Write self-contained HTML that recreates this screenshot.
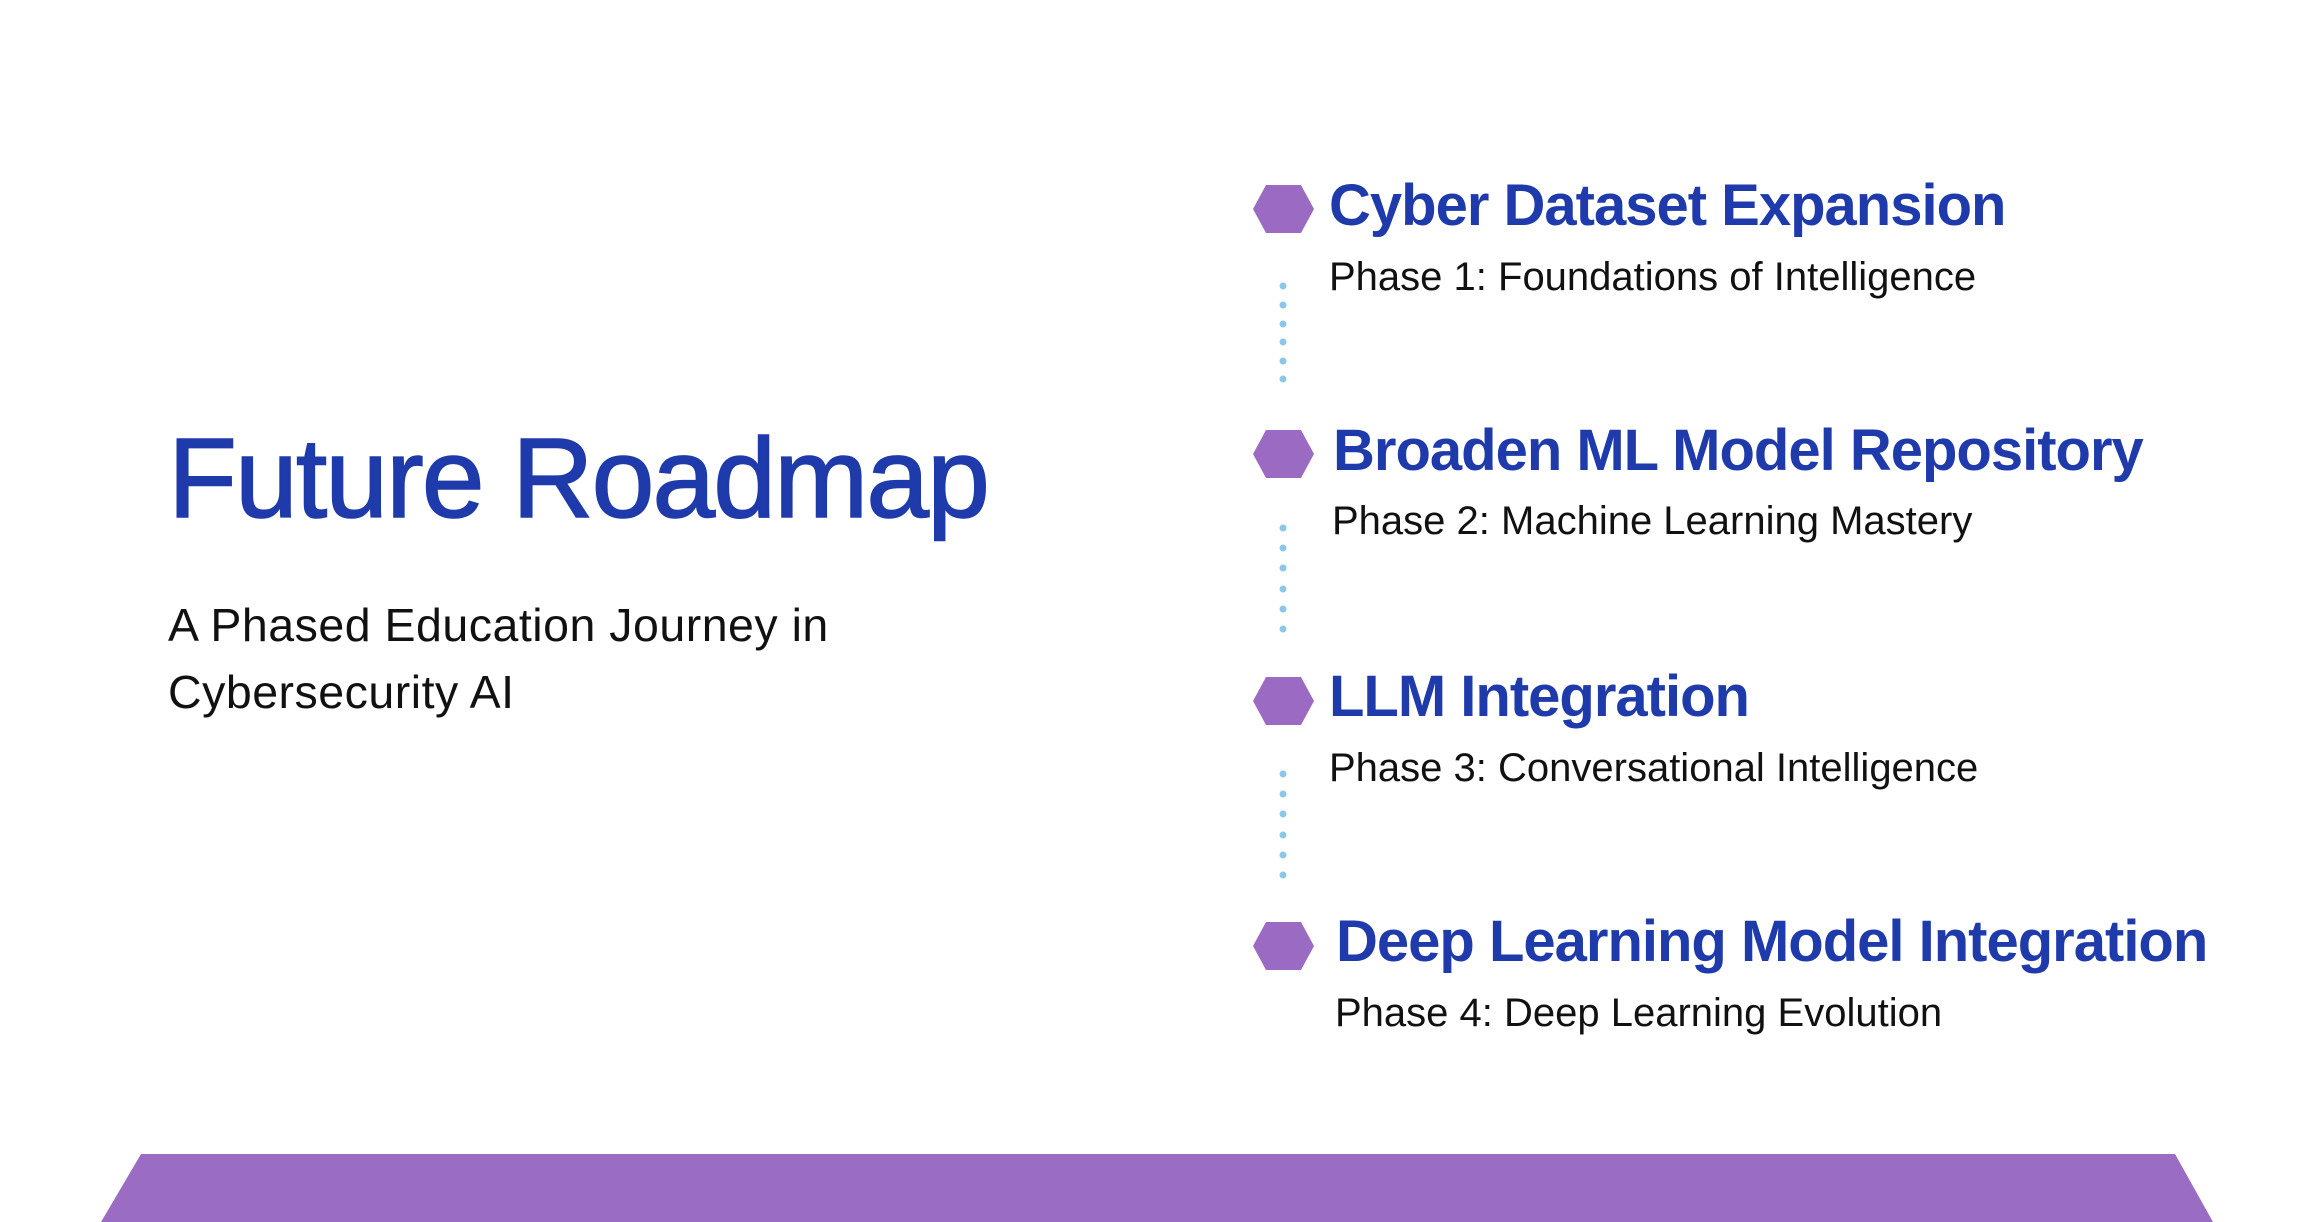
<!DOCTYPE html>
<html><head><meta charset="utf-8"><style>
body{margin:0;width:2316px;height:1222px;background:#fff;position:relative;overflow:hidden;font-family:"Liberation Sans",sans-serif}
.t{position:absolute;white-space:nowrap;line-height:1}
.title{left:168px;top:422px;font-size:113px;letter-spacing:-2px;color:#1f3aaa;-webkit-text-stroke:1.5px #1f3aaa}
.sub{left:168px;font-size:46.5px;color:#111;letter-spacing:0.5px}
.h{font-size:58px;font-weight:bold;color:#1f3aaa;letter-spacing:-1px}
.p{font-size:40px;color:#111}
</style></head><body>
<div class="t title">Future Roadmap</div>
<div class="t sub" style="top:602px">A Phased Education Journey in</div>
<div class="t sub" style="top:669px">Cybersecurity AI</div>

<svg width="2316" height="1222" style="position:absolute;left:0;top:0">
<g fill="#9b6bc4">
<polygon points="1253,209 1266,185 1301,185 1314,209 1301,233 1266,233"/>
<polygon points="1253,454 1266,430 1301,430 1314,454 1301,478 1266,478"/>
<polygon points="1253,701 1266,677 1301,677 1314,701 1301,725 1266,725"/>
<polygon points="1253,946 1266,922 1301,922 1314,946 1301,970 1266,970"/>
</g>
<g fill="#8ec6e8">
<circle cx="1283" cy="286" r="3.5"/><circle cx="1283" cy="305" r="3.5"/><circle cx="1283" cy="324" r="3.5"/><circle cx="1283" cy="342" r="3.5"/><circle cx="1283" cy="361" r="3.5"/><circle cx="1283" cy="379" r="3.5"/>
<circle cx="1283" cy="528" r="3.5"/><circle cx="1283" cy="548" r="3.5"/><circle cx="1283" cy="568" r="3.5"/><circle cx="1283" cy="589" r="3.5"/><circle cx="1283" cy="609" r="3.5"/><circle cx="1283" cy="629" r="3.5"/>
<circle cx="1283" cy="774" r="3.5"/><circle cx="1283" cy="794" r="3.5"/><circle cx="1283" cy="814" r="3.5"/><circle cx="1283" cy="835" r="3.5"/><circle cx="1283" cy="855" r="3.5"/><circle cx="1283" cy="875" r="3.5"/>
</g>
<polygon points="141,1154 2175,1154 2213,1222 101,1222" fill="#9a6cc4"/>
</svg>

<div class="t h" style="left:1329px;top:177px">Cyber Dataset Expansion</div>
<div class="t p" style="left:1329px;top:257px">Phase 1: Foundations of Intelligence</div>
<div class="t h" style="left:1333px;top:422px">Broaden ML Model Repository</div>
<div class="t p" style="left:1332px;top:501px">Phase 2: Machine Learning Mastery</div>
<div class="t h" style="left:1329px;top:668px">LLM Integration</div>
<div class="t p" style="left:1329px;top:748px">Phase 3: Conversational Intelligence</div>
<div class="t h" style="left:1336px;top:913px">Deep Learning Model Integration</div>
<div class="t p" style="left:1335px;top:993px">Phase 4: Deep Learning Evolution</div>
</body></html>
